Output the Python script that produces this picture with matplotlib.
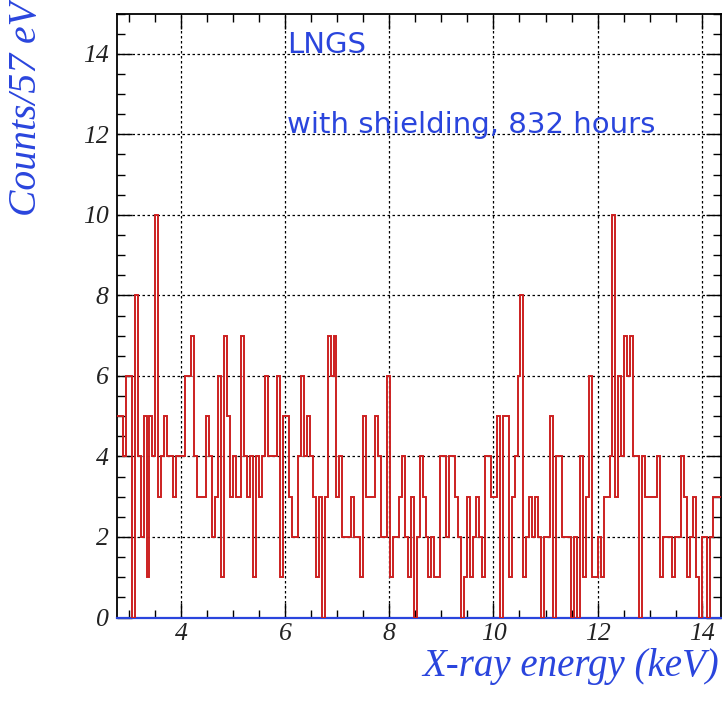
import numpy as np
import matplotlib
matplotlib.use("Agg")
import matplotlib.pyplot as plt
from matplotlib.ticker import MultipleLocator

# ---- data (counts per 57 eV bin) ----
bin_start_kev = 2.767
bin_width_kev = 0.057

counts_a = [5, 5, 4, 6, 6, 0, 8, 4, 2, 5, 1, 5, 4, 10, 3, 4, 5, 4,
            4, 3, 4, 4, 4, 6, 6, 7, 4, 3, 3, 3, 5, 4, 2, 3, 6, 1]
counts_b = [7, 5, 3, 4, 3, 3, 7, 4, 3, 4, 1, 4, 3, 4, 6, 4, 4, 4, 6,
            1, 5, 5, 3, 2, 2, 4, 6, 4, 5, 4, 3, 1, 3, 0, 3, 7, 6]
counts_c = [7, 3, 4, 2, 2, 2, 3, 2, 2, 1, 5, 3, 3, 3, 5, 4, 2, 2, 6,
            1, 2, 2, 3, 4, 2, 1, 3, 0, 2, 4, 3, 2, 1, 2, 1, 1, 4]
counts_d = [4, 2, 4, 4, 3, 2, 0, 1, 3, 1, 2, 3, 2, 1, 4, 4, 3, 3, 5,
            0, 5, 5, 1, 3, 4, 6, 8, 1, 2, 3, 2, 3, 2, 0, 2, 2, 5]
counts_e = [0, 4, 4, 2, 2, 2, 0, 2, 0, 4, 1, 3, 6, 1, 1, 2, 1, 3, 3,
            4, 10, 3, 6, 4, 7, 6, 7, 4, 4, 0, 4, 3, 3, 3, 3, 4, 1]
counts_f = [2, 2, 2, 1, 2, 2, 4, 3, 1, 2, 3, 1, 0, 2, 2, 0, 2, 3, 3, 3]

x_ticks = [4, 6, 8, 10, 12, 14]
y_ticks = [0, 2, 4, 6, 8, 10, 12, 14]
x_label = "X-ray energy (keV)"
y_label = "Counts/57 eV"
note_1 = "LNGS"
note_2 = "with shielding, 832 hours"

counts = np.array(counts_a + counts_b + counts_c + counts_d + counts_e + counts_f)
edges = bin_start_kev + bin_width_kev * np.arange(len(counts) + 1)

# ---- figure ----
W, H = 722, 706
fig = plt.figure(figsize=(W / 100, H / 100), dpi=100)
ax = fig.add_axes([117 / W, 1 - 617.5 / H, (721 - 117) / W, (617.5 - 13.5) / H])

blue = "#2a45dd"
red = "#cc2020"
serif = "Liberation Serif"

ax.stairs(counts, edges, color=red, lw=1.4, baseline=None, zorder=3)

ax.set_xlim(2.77, 14.37)
ax.set_ylim(0, 15)
ax.set_xticks(x_ticks)
ax.set_yticks(y_ticks)
ax.xaxis.set_minor_locator(MultipleLocator(0.5))
ax.yaxis.set_minor_locator(MultipleLocator(0.5))

ax.grid(True, which="major", color="black", linestyle=(0, (2, 2)), lw=0.9, zorder=1)

ax.tick_params(which="both", direction="in", top=True, right=True,
               labeltop=False, labelright=False, color="black", width=1.0)
ax.tick_params(which="major", length=11, pad=6)
ax.tick_params(which="minor", length=6)
ax.tick_params(axis="x", which="major", pad=4)

for lab in ax.get_xticklabels() + ax.get_yticklabels():
    lab.set_fontfamily(serif)
    lab.set_fontstyle("italic")
    lab.set_fontsize(18.5)
    lab.set_color("#222222")

for side in ["left", "top", "right"]:
    ax.spines[side].set_color("black")
    ax.spines[side].set_linewidth(1.3)
ax.spines["bottom"].set_color(blue)
ax.spines["bottom"].set_linewidth(1.6)

fig.text(27 / W, 1 - 1 / H, y_label, rotation=90, ha="center", va="top",
         family=serif, style="italic", fontsize=28.5, color=blue)
fig.text(719 / W, 1 - 676 / H, x_label, ha="right", va="baseline",
         family=serif, style="italic", fontsize=28, color=blue)

fig.text(287 / W, 1 - 53 / H, note_1, ha="left", va="baseline",
         family="DejaVu Sans", fontsize=21, color=blue)
fig.text(287 / W, 1 - 133 / H, note_2, ha="left", va="baseline",
         family="DejaVu Sans", fontsize=21, color=blue)

fig.savefig("out.png", dpi=100)
